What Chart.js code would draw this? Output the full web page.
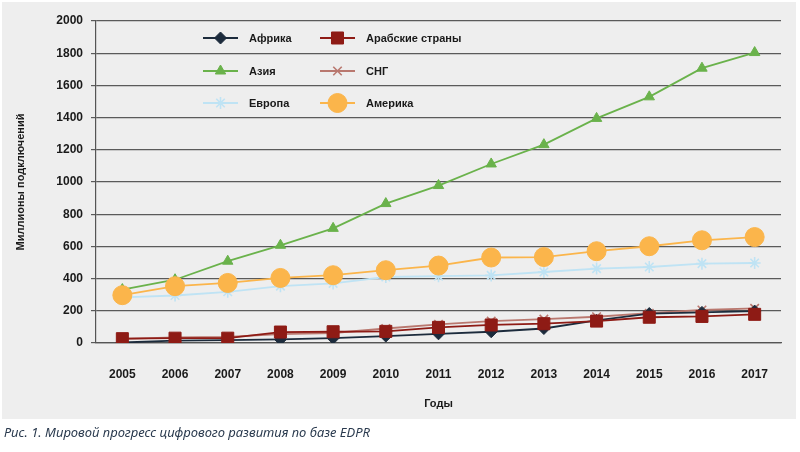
<!DOCTYPE html>
<html>
<head>
<meta charset="utf-8">
<script src="https://cdn.jsdelivr.net/npm/chart.js@4.4.1/dist/chart.umd.min.js"></script>
<style>
  html, body { margin: 0; padding: 0; background: #fff; }
  #wrap { width: 800px; height: 452px; }
</style>
</head>
<body>
<div id="wrap"><canvas id="chart"></canvas></div>
<script>
const years = ['2005', '2006', '2007', '2008', '2009', '2010', '2011', '2012', '2013', '2014', '2015', '2016', '2017'];
const africa = [3, 15, 18, 22, 30, 43, 57, 70, 90, 140, 183, 190, 198];
const arab = [27, 30, 30, 68, 70, 72, 97, 112, 120, 136, 160, 165, 178];
const asia = [332, 393, 508, 607, 712, 866, 978, 1112, 1232, 1395, 1529, 1707, 1804];
const cis = [25, 35, 38, 55, 62, 90, 116, 136, 148, 163, 185, 205, 215];
const europe = [283, 295, 318, 353, 370, 410, 415, 420, 441, 462, 472, 493, 497];
const america = [297, 353, 373, 404, 421, 452, 481, 531, 534, 570, 601, 638, 658];
const yTicks = [0, 200, 400, 600, 800, 1000, 1200, 1400, 1600, 1800, 2000];

const FONT = "'Liberation Sans', 'DejaVu Sans Condensed', sans-serif";

function series(label, data, color, style, radius, order, fill) {
  return {
    label,
    data,
    order,
    borderColor: color,
    borderWidth: 1.8,
    pointStyle: style,
    pointRadius: radius,
    pointHoverRadius: radius,
    pointBackgroundColor: fill ? color : 'transparent',
    pointBorderColor: color,
    pointBorderWidth: fill ? 1 : 1.6,
    tension: 0,
  };
}

// backdrop + caption
const frame = {
  id: 'frame',
  beforeDraw(chart) {
    const ctx = chart.ctx;
    ctx.save();
    ctx.fillStyle = '#ffffff';
    ctx.fillRect(0, 0, chart.width, chart.height);
    ctx.fillStyle = '#eeeeee';
    ctx.fillRect(2, 2, 794, 417);
    ctx.restore();
  },
  afterDraw(chart) {
    const ctx = chart.ctx;
    ctx.save();
    ctx.fillStyle = '#2a3a4e';
    ctx.font = "italic 13px 'Noto Sans', sans-serif";
    ctx.textBaseline = 'middle';
    ctx.fillText('Рис. 1. Мировой прогресс цифрового развития по базе EDPR', 4, 433);
    ctx.restore();
  },
};

// legend laid out in two columns inside the plot
const gridLegend = {
  id: 'gridLegend',
  afterDraw(chart) {
    const ctx = chart.ctx;
    const cols = [203, 320];
    const rows = [38, 71, 103];
    chart.data.datasets.forEach((ds, i) => {
      const x = cols[i % 2];
      const y = rows[Math.floor(i / 2)];
      ctx.save();
      ctx.strokeStyle = ds.borderColor;
      ctx.lineWidth = ds.borderWidth;
      ctx.beginPath();
      ctx.moveTo(x, y);
      ctx.lineTo(x + 35, y);
      ctx.stroke();
      ctx.fillStyle = ds.pointBackgroundColor;
      ctx.strokeStyle = ds.pointBorderColor;
      ctx.lineWidth = ds.pointBorderWidth;
      Chart.helpers.drawPoint(ctx, {
        pointStyle: ds.pointStyle,
        radius: ds.pointRadius,
        rotation: 0,
        borderWidth: ds.pointBorderWidth,
      }, x + 17.5, y);
      ctx.fillStyle = '#1a1a1a';
      ctx.font = 'bold 11px ' + FONT;
      ctx.textBaseline = 'middle';
      ctx.fillText(ds.label, x + 46, y + 1);
      ctx.restore();
    });
  },
};

new Chart(document.getElementById('chart'), {
  type: 'line',
  data: {
    labels: years,
    datasets: [
      series('Африка', africa, '#1c2b3c', 'rectRot', 6, 1, true),
      series('Арабские страны', arab, '#8e1b15', 'rect', 8.5, 0, true),
      series('Азия', asia, '#6ab24b', 'triangle', 6, 4, true),
      series('СНГ', cis, '#b9786f', 'crossRot', 6, 2, false),
      series('Европа', europe, '#bfe3f4', 'star', 6, 5, false),
      series('Америка', america, '#fbb54b', 'circle', 9.5, 3, true),
    ],
  },
  options: {
    responsive: true,
    maintainAspectRatio: false,
    animation: false,
    layout: { padding: { left: 14, right: 19, top: 21, bottom: 41 } },
    plugins: {
      legend: { display: false },
      tooltip: { enabled: false },
    },
    scales: {
      x: {
        offset: true,
        grid: { display: false },
        border: { display: true, color: '#555', width: 1.2 },
        ticks: {
          color: '#1a1a1a',
          padding: 16,
          maxRotation: 0,
          font: { family: FONT, size: 12, weight: 'bold' },
        },
        title: {
          display: true,
          text: 'Годы',
          color: '#1a1a1a',
          padding: { top: 9, bottom: 0 },
          font: { family: FONT, size: 11, weight: 'bold' },
        },
        afterFit: (scale) => { scale.height = 68; },
      },
      y: {
        min: 0,
        max: 2000,
        afterBuildTicks: (scale) => { scale.ticks = yTicks.map((v) => ({ value: v })); },
        grid: { color: '#5a5a5a', lineWidth: 1.2, tickLength: 5 },
        border: { display: true, color: '#555', width: 1.2 },
        ticks: {
          color: '#1a1a1a',
          padding: 8,
          callback: (value) => String(value),
          font: { family: FONT, size: 12, weight: 'bold' },
        },
        title: {
          display: true,
          text: 'Миллионы подключений',
          color: '#1a1a1a',
          padding: { top: 0, bottom: 10 },
          font: { family: FONT, size: 11, weight: 'bold' },
        },
        afterFit: (scale) => { scale.width = 82; },
      },
    },
  },
  plugins: [frame, gridLegend],
});
</script>
</body>
</html>
